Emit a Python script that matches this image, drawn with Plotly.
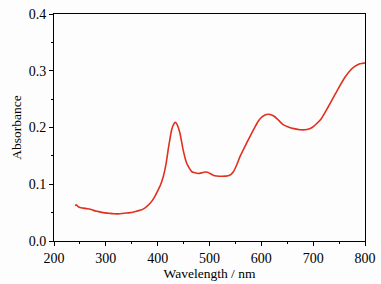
import plotly.graph_objects as go

wavelength = [241, 243, 246, 250, 256, 263, 270, 276, 285, 295, 305, 315, 324, 335, 347, 357, 366,
              375, 385, 393, 401, 406, 411, 416, 421, 427, 431, 434, 437, 443, 449, 456, 466,
              478, 485, 491, 496, 501, 507, 514, 525, 536, 541, 546, 552, 559, 568, 578, 586,
              594, 602, 610, 617, 626, 634, 642, 652, 663, 675, 688, 698, 707, 716, 727, 739,
              750, 761, 771, 781, 790, 795, 800]
absorbance = [0.062, 0.064, 0.061, 0.059, 0.058, 0.057, 0.056, 0.054, 0.052, 0.050, 0.049, 0.048,
              0.0478, 0.049, 0.050, 0.052, 0.054, 0.058, 0.066, 0.076, 0.090, 0.100, 0.114, 0.135,
              0.165, 0.196, 0.206, 0.209, 0.206, 0.190, 0.161, 0.137, 0.122, 0.119, 0.120, 0.1215,
              0.121, 0.119, 0.116, 0.1145, 0.114, 0.115, 0.117, 0.122, 0.133, 0.149, 0.166, 0.184,
              0.198, 0.211, 0.219, 0.223, 0.223, 0.219, 0.212, 0.205, 0.201, 0.198, 0.196, 0.1965,
              0.200, 0.207, 0.216, 0.233, 0.253, 0.271, 0.288, 0.300, 0.308, 0.3125, 0.313, 0.314]

x_ticks = [200, 300, 400, 500, 600, 700, 800]
y_ticks = [0.0, 0.1, 0.2, 0.3, 0.4]

FONT = "Liberation Serif"

fig = go.Figure(go.Scatter(x=wavelength, y=absorbance, mode="lines",
                           line=dict(color="#e0301e", width=1.6, shape="spline", smoothing=0.5)))

axis_common = dict(showline=True, linecolor="black", linewidth=1, mirror=True, automargin=False,
                   ticks="outside", ticklen=4, tickcolor="black", showgrid=False, zeroline=False,
                   tickfont=dict(family=FONT, size=14, color="black"))

fig.update_layout(
    width=381, height=284,
    margin=dict(l=54, r=16, t=14, b=43),
    paper_bgcolor="#fdfdfd", plot_bgcolor="#fdfdfd",
    showlegend=False,
    font=dict(family=FONT, size=14, color="black"),
)
fig.update_xaxes(range=[200, 800], tickvals=x_ticks, ticktext=[str(v) for v in x_ticks],
                 minor=dict(ticks="outside", ticklen=2, dtick=50, tick0=200, tickcolor="black"),
                 title=dict(text="Wavelength / nm", standoff=3, font=dict(family=FONT, size=13.5)),
                 **axis_common)
fig.update_yaxes(range=[0, 0.4], tickvals=y_ticks, ticktext=[f"{v:.1f}" for v in y_ticks],
                 minor=dict(ticks="outside", ticklen=2, dtick=0.05, tick0=0, tickcolor="black"),
                 title=dict(text="Absorbance", standoff=3, font=dict(family=FONT, size=13.5)),
                 **axis_common)

fig.write_html("out.html", config={"displayModeBar": False},
               post_script="document.body.style.margin='0';document.body.style.overflow='hidden';")
